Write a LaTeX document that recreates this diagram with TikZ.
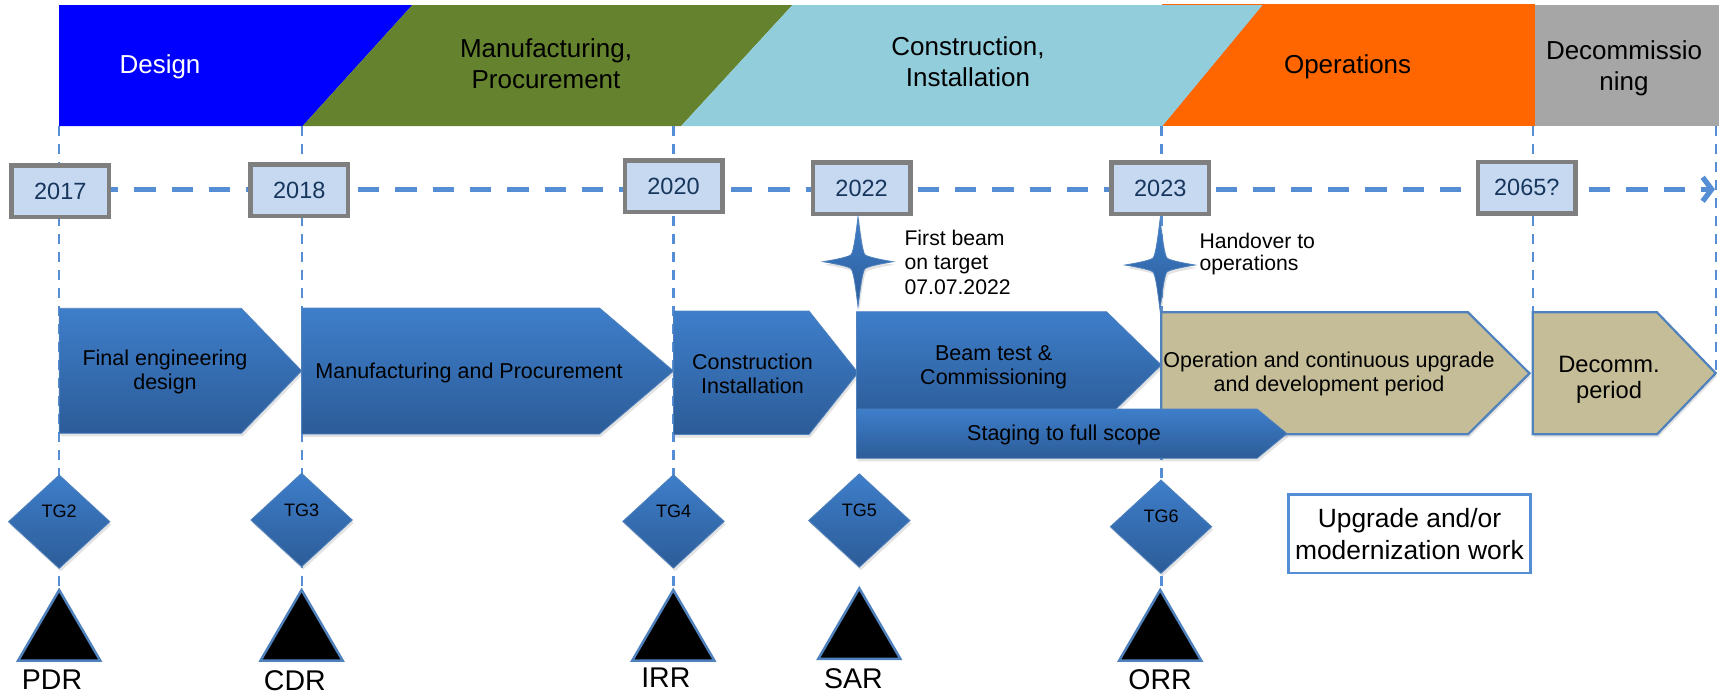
\documentclass[tikz,border=0pt]{standalone}
\usepackage{fontspec}
\setmainfont{Liberation Sans}
\usetikzlibrary{arrows.meta,shadows}

\definecolor{designblue}{RGB}{0,0,255}
\definecolor{mfggreen}{RGB}{101,130,46}
\definecolor{instblue}{RGB}{146,205,220}
\definecolor{opsorange}{RGB}{255,102,0}
\definecolor{decgray}{RGB}{166,166,166}
\definecolor{linkblue}{RGB}{85,142,213}
\definecolor{yearfill}{RGB}{198,217,241}
\definecolor{yearedge}{RGB}{127,127,127}
\definecolor{yeartext}{RGB}{23,54,93}
\definecolor{chevtop}{RGB}{62,126,202}
\definecolor{chevbot}{RGB}{44,92,152}
\definecolor{chevedge}{RGB}{79,129,189}
\definecolor{tanfill}{RGB}{196,189,151}

\newcommand\fsz[2]{\fontsize{#1}{#2}\selectfont}

\tikzset{
  bandtext/.style={align=center, font={\fsz{26}{31}}},
  guide/.style={linkblue, line width=2.5pt, dash pattern=on 10pt off 8pt},
  timeline/.style={linkblue, line width=5.3pt, dash pattern=on 21.3pt off 16pt,
    -{Straight Barb[length=9pt,width=24pt]}},
  yearbox/.style={draw=yearedge, fill=yearfill, line width=4.5pt,
    minimum width=97.5pt, minimum height=51.5pt, inner sep=0pt,
    text=yeartext, font={\fsz{23.5}{28}}},
  softshadow/.style={drop shadow={shadow xshift=1.5pt, shadow yshift=-3pt, opacity=0.22}},
  chev/.style={top color=chevtop, bottom color=chevbot, draw=chevedge, line width=0.8pt, softshadow},
  tanchev/.style={fill=tanfill, draw=chevedge, line width=2.2pt, softshadow},
  chevtext/.style={align=center, font={\fsz{21.5}{24}}},
  notetext/.style={align=left, anchor=west, font={\fsz{21.2}{24.5}}},
  gatetext/.style={font={\fsz{18}{20}}},
  revtri/.style={fill=black, draw=chevedge, line width=2.5pt},
  revtext/.style={font={\fsz{28.5}{32}}},
  pics/milestar/.style={code={
    \path[chev] (0,-45) .. controls (3,-20) and (5,-9) .. (7,-7)
      .. controls (9,-5) and (20,-2.5) .. (35,0)
      .. controls (20,2.5) and (9,5) .. (7,7)
      .. controls (5,9) and (3,20) .. (0,45)
      .. controls (-3,20) and (-5,9) .. (-7,7)
      .. controls (-9,5) and (-20,2.5) .. (-35,0)
      .. controls (-20,-2.5) and (-9,-5) .. (-7,-7)
      .. controls (-5,-9) and (-3,-20) .. (0,-45) -- cycle;
  }},
  pics/gate/.style={code={
    \path[chev] (0,-46.7) -- (50.7,0) -- (0,46.7) -- (-50.7,0) -- cycle;
    \node[gatetext] (-label) at (0,-10) {#1};
  }},
  pics/review/.style={code={
    \path[revtri] (0,0) -- (41,70.5) -- (-41,70.5) -- cycle;
  }}
}

\begin{document}
\begin{tikzpicture}[x=1pt,y=-1pt]
\useasboundingbox (0,0) rectangle (1719,694);

% ---- phase bands ----
\fill[designblue] (59.2,5) -- (412.4,5) -- (302.7,126) -- (59.2,126) -- cycle;
\fill[mfggreen] (412.4,5) -- (792.5,5) -- (681.2,126) -- (302.7,126) -- cycle;
\fill[opsorange] (1162.4,4) rectangle (1535,126);
\fill[instblue] (792.5,5) -- (1262.6,5) -- (1162.4,126) -- (681.2,126) -- cycle;
\fill[decgray] (1535,5) rectangle (1719,126);

\node[bandtext, text=white] (tDesign) at (160,67) {Design};
\node[bandtext] (tMfg) at (546,64) {Manufacturing,\\Procurement};
\node[bandtext] (tCons) at (968,62) {Construction,\\Installation};
\node[bandtext] (tOps) at (1347.6,67) {Operations};
\node[bandtext] (tDec) at (1624,68.5) {Decommissio\\ning};

% ---- vertical guide lines ----
\coordinate (g17t) at (59.2,126);   \coordinate (g17b) at (59.2,590);
\coordinate (g18t) at (301.8,126);  \coordinate (g18b) at (301.8,590);
\coordinate (g20t) at (673.5,126);  \coordinate (g20b) at (673.5,590);
\coordinate (g23t) at (1161.3,126); \coordinate (g23b) at (1161.3,590);
\coordinate (g65t) at (1533,126);   \coordinate (g65b) at (1533,312);
\coordinate (gEt) at (1716,126);    \coordinate (gEb) at (1716,372);
\draw[guide] (g17t) -- (g17b);
\draw[guide] (g18t) -- (g18b);
\draw[guide] (g20t) -- (g20b);
\draw[guide] (g23t) -- (g23b);
\draw[guide] (g65t) -- (g65b);
\draw[guide] (gEt) -- (gEb);

% ---- time axis ----
\coordinate (tl0) at (59.7,189.3);
\coordinate (tl1) at (1715,189.3);
\draw[timeline] (tl0) -- (tl1);

\node[yearbox] (y2017) at (60.3,191) {2017};
\node[yearbox] (y2018) at (299.3,190) {2018};
\node[yearbox] (y2020) at (673.5,186) {2020};
\node[yearbox] (y2022) at (861.6,188) {2022};
\node[yearbox] (y2023) at (1160.3,188) {2023};
\node[yearbox] (y2065) at (1526.8,187.5) {2065?};

% ---- milestone stars ----
\pic (beamstar) at (858,261.7) {milestar};
\pic (handstar) at (1160,265) {milestar};
\node[notetext] (nBeam) at (901,262.3) {First beam\\on target\\07.07.2022};
\node[notetext, font={\fsz{21.2}{22}}] (nHand) at (1196,254) {Handover to\\operations};

% ---- activity chevrons ----
\path[chev] (59.2,308.3) -- (241.3,308.3) -- (301.6,370.8) -- (241.3,433.3) -- (59.2,433.3) -- cycle;
\path[chev] (301.6,308) -- (599.5,308) -- (673.5,371) -- (599.5,434) -- (301.6,434) -- cycle;
\path[chev] (673.5,311) -- (809,311) -- (858,372.7) -- (809,434.5) -- (673.5,434.5) -- cycle;
\path[chev] (856.5,311.7) -- (1106.5,311.7) -- (1161.3,365) -- (1106.5,418.3) -- (856.5,418.3) -- cycle;
\path[tanchev] (1161.3,312.3) -- (1468,312.3) -- (1529.5,373.3) -- (1468,434.3) -- (1161.3,434.3) -- cycle;
\path[chev] (856.5,409) -- (1257,409) -- (1287,433.6) -- (1257,458.3) -- (856.5,458.3) -- cycle;
\path[tanchev] (1532.7,312.3) -- (1657,312.3) -- (1715.7,373.2) -- (1657,434.3) -- (1532.7,434.3) -- cycle;

\node[chevtext] (aFinal) at (165,372) {Final engineering\\design};
\node[chevtext] (aMfg) at (469,372.7) {Manufacturing and Procurement};
\node[chevtext] (aCons) at (752.5,373.4) {Construction\\Installation};
\node[chevtext] (aBeam) at (993.7,367.7) {Beam test \&\\Commissioning};
\node[chevtext] (aStage) at (1064,435) {Staging to full scope};
\node[chevtext] (aOps) at (1329,374.3) {Operation and continuous upgrade\\and development period};
\node[chevtext, font={\fsz{23.7}{26}}] (aDec) at (1609,380) {Decomm.\\period};

% ---- tollgates ----
\pic (tg2) at (59.2,521.7) {gate=TG2};
\pic (tg3) at (301.6,520) {gate=TG3};
\pic (tg4) at (673.5,521.4) {gate=TG4};
\pic (tg5) at (859.3,520.5) {gate=TG5};
\pic (tg6) at (1161,526.7) {gate=TG6};

\node[draw=linkblue, line width=2.8pt, fill=white, minimum width=241.5pt,
  minimum height=78.2pt, align=center, font={\fsz{26.4}{32}}] (upgrade)
  at (1409.5,533.8) {Upgrade and/or\\modernization work};

% ---- reviews ----
\pic (pdr) at (59.2,590) {review};
\pic (cdr) at (301.6,590) {review};
\pic (irr) at (673.3,590) {review};
\pic (sar) at (859.3,588.3) {review};
\pic (orr) at (1160.2,590) {review};
\node[revtext] (lPDR) at (52,680) {PDR};
\node[revtext] (lCDR) at (294.8,681) {CDR};
\node[revtext] (lIRR) at (665.8,677.3) {IRR};
\node[revtext] (lSAR) at (853.3,678.3) {SAR};
\node[revtext] (lORR) at (1160,679.3) {ORR};
\end{tikzpicture}
\end{document}
